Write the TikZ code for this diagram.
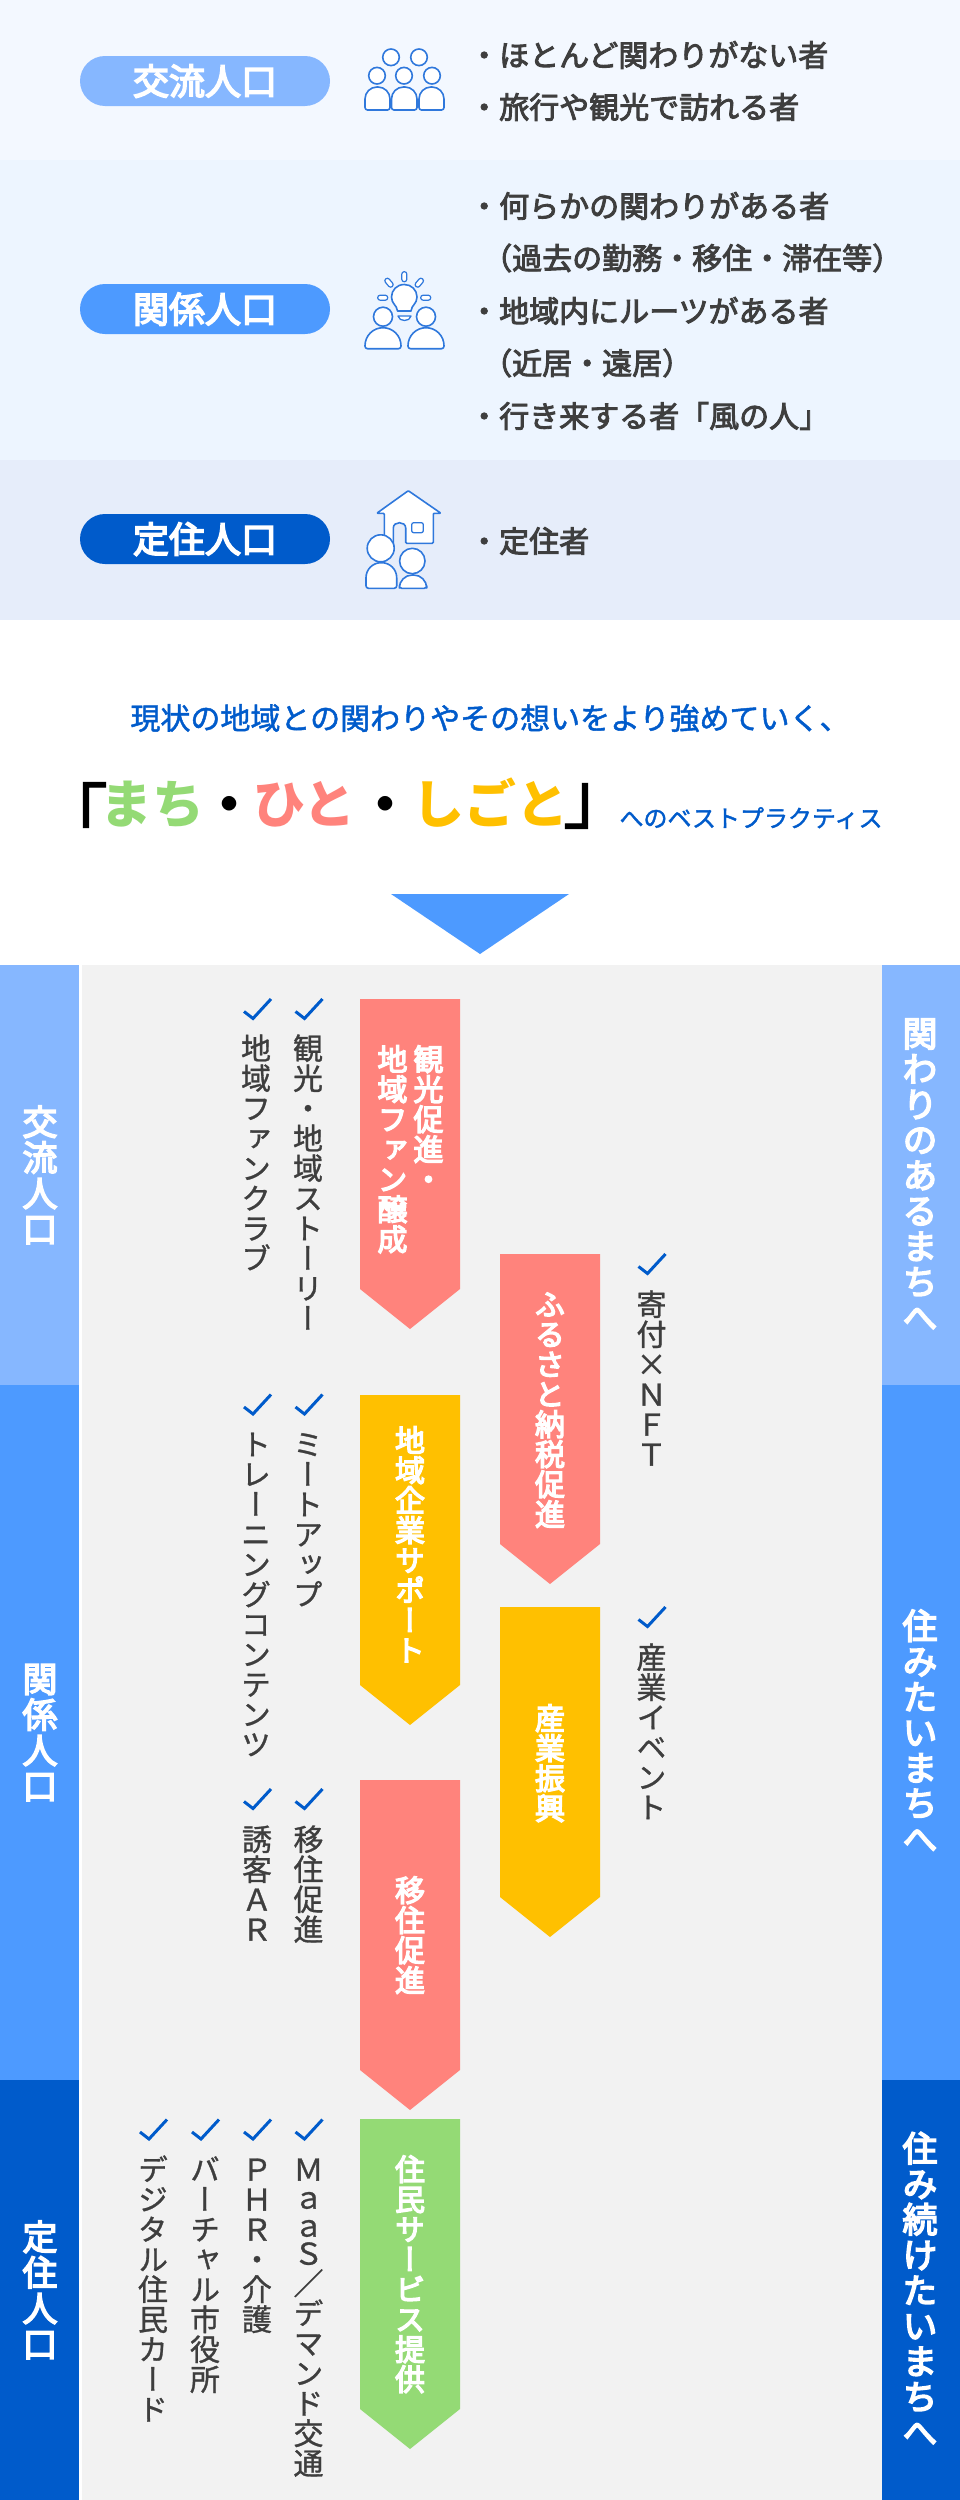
\documentclass[tikz,border=0pt]{standalone}
\usepackage{fontspec}
\setmainfont{Noto Sans CJK JP}
\newfontfamily\jpv{Noto Sans CJK JP}[RawFeature={+vert},FakeBold=1]
\newfontfamily\jpvb{Noto Sans CJK JP}[RawFeature={+vert},FakeBold=4.5]
\newfontfamily\jpm{Noto Sans CJK JP}[FakeBold=3]
\newfontfamily\jpl{Noto Sans CJK JP}[FakeBold=1.5]
\newfontfamily\jpb{Noto Sans CJK JP}[FakeBold=4.5]
\definecolor{bandA}{HTML}{F3F8FF}
\definecolor{bandB}{HTML}{EDF5FF}
\definecolor{bandC}{HTML}{E6EDFA}
\definecolor{lt}{HTML}{86B7FF}
\definecolor{md}{HTML}{4D9AFF}
\definecolor{dk}{HTML}{005BCB}
\definecolor{pinkc}{HTML}{FF837C}
\definecolor{yelc}{HTML}{FFC000}
\definecolor{grnc}{HTML}{94DA75}
\definecolor{grayc}{HTML}{F2F2F2}
\definecolor{txt}{HTML}{3E3E3E}
\definecolor{ic}{HTML}{2F78DC}
\newcommand\es{\vrule height .88em depth .12em width 0pt\relax}
\newcommand\fs[1]{\fontsize{#1}{#1}\selectfont}
\ExplSyntaxOn
\NewDocumentCommand\vchars{mm}{
  \baselineskip=#1pt\relax
  \lineskiplimit=-1000pt\relax
  \tl_map_inline:nn{#2}{\hbox~to~1em{\hss\vrule~height~.88em~depth~.12em~width~0pt\relax ##1\hss}}
}
\ExplSyntaxOff
\newcommand\vcol[2]{\vbox{\vchars{#1}{#2}}}
\tikzset{
  x=1pt,y=-1pt,
  pill/.style={inner sep=0,minimum width=250pt,minimum height=50pt,rounded corners=25pt,text=white,font=\jpb\fs{36}},
  listline/.style={inner sep=0,anchor=west,text=txt,font=\jpm\fs{30}},
  icn/.style={draw=ic,fill=white,line width=1.6pt,line join=round},
  ray/.style={draw=ic,fill=white,line width=1.2pt,rounded corners=2.4pt},
  sidelabel/.style={inner sep=0,anchor=north,text=white,font=\jpvb\fs{35}},
  arrowlabel/.style={inner sep=0,anchor=north,text=white,font=\jpvb\fs{30}},
  itemcol/.style={inner sep=0,anchor=north,text=txt,font=\jpv\fs{30}},
  chk/.style={draw=dk,line width=3pt,line join=miter},
  headpart/.style={inner sep=0,font=\fs{52}\bfseries},
  bracket/.style={inner sep=0,text=black,font=\jpl\fs{70}},
}
\newcommand\chk[2]{\draw[chk] (#1-13.5,#2+13) -- (#1-4.5,#2+20) -- (#1+13.5,#2+0.5);}
\newcommand\arrowshape[3]{\fill[#1] (#2,#3) -- (#2+100,#3) -- (#2+100,#3+290) -- (#2+50,#3+330) -- (#2,#3+290) -- cycle;}
\newcommand\bodygen[5]{\draw[icn] [rounded corners=2.5pt] ({(#1+#2)/2},#5) -- (#1,#5) [rounded corners=#3pt] -- (#1,#4) -- (#2,#4) [rounded corners=2.5pt] -- (#2,#5) -- cycle;}
\begin{document}
\begin{tikzpicture}
\useasboundingbox (0,0) rectangle (960,2500);
\fill[white] (0,0) rectangle (960,2500);
% bands
\fill[bandA] (0,0) rectangle (960,160);
\fill[bandB] (0,160) rectangle (960,460);
\fill[bandC] (0,460) rectangle (960,620);
% pills
\node[pill,fill=lt] (pillA) at (205,81) {\es 交流人口};
\node[pill,fill=md] (pillB) at (205,309) {\es 関係人口};
\node[pill,fill=dk] (pillC) at (205,539) {\es 定住人口};
% icon A
\foreach \cx in {391,419} \draw[icn] (\cx,57.3) circle[radius=8.3];
\foreach \cx in {377,404,432} \draw[icn] (\cx,75.7) circle[radius=8.3];
\bodygen{365}{390}{12}{87}{110}
\bodygen{391.5}{417}{12}{87}{110}
\bodygen{419}{444}{12}{87}{110}
% icon B
\draw[icn] (397.5,311) .. controls (397,305) and (391.5,304) .. (391.5,297) .. controls (391.5,290) and (397,284.5) .. (404.3,284.5) .. controls (411.5,284.5) and (417,290) .. (417,297) .. controls (417,304) and (411.5,305) .. (411,311) -- cycle;
\draw[icn,line width=1.3pt] (398,316) -- (411,316) .. controls (410,322) and (399,322) .. (398,316) -- cycle;
\draw[ray] (401.8,271.7) rectangle (406.8,281.7);
\draw[ray,rotate around={40:(389,282.7)}] (386.5,277.7) rectangle (391.5,287.7);
\draw[ray,rotate around={-40:(419.3,282.7)}] (416.8,277.7) rectangle (421.8,287.7);
\draw[ray] (377.7,295.2) rectangle (387.7,300.2);
\draw[ray] (420.7,295.2) rectangle (430.7,300.2);
\draw[icn] (383,316.7) circle[radius=9.5];
\draw[icn] (426,316.7) circle[radius=9.5];
\bodygen{365}{401}{18}{327.7}{348.7}
\bodygen{408}{444}{18}{327.7}{348.7}
% icon C
\draw[icn,rounded corners=1pt] (384.3,538) -- (384.3,513.3) -- (376.7,513.3) -- (408.3,490.7) -- (441,513.3) -- (433.3,513.3) -- (433.3,543.3) -- (405.7,543.3) -- (405.7,529) .. controls (405.7,521) and (393.3,521) .. (393.3,529) -- (393.3,548) -- cycle;
\draw[icn,rounded corners=2pt,line width=1.3pt] (411.7,522.7) rectangle (423.3,532.7);
\draw[icn] (380.7,548.3) circle[radius=13.5];
\draw[icn] (412.3,561) circle[radius=12.7];
\bodygen{366}{396.7}{15}{562.7}{588.3}
\bodygen{399.3}{426.7}{13}{575}{588.3}
% list text
\node[listline] (la1) at (469,55) {\es ・ほとんど関わりがない者};
\node[listline] (la2) at (469,107) {\es ・旅行や観光で訪れる者};
\node[listline] (lb1) at (469,206) {\es ・何らかの関わりがある者};
\node[listline] (lb2) at (482,258) {\es （過去の勤務・移住・滞在等）};
\node[listline] (lb3) at (469,311) {\es ・地域内にルーツがある者};
\node[listline] (lb4) at (482,363) {\es （近居・遠居）};
\node[listline] (lb5) at (469,416) {\es ・行き来する者「風の人」};
\node[listline] (lc1) at (469,541) {\es ・定住者};
% heading
\node[inner sep=0,text=dk,font=\jpl\fs{30}] (h1) at (490,718) {\es 現状の地域との関わりやその想いをより強めていく、};
\node[bracket] (hq1) at (73,815) {\es 「};
\node[headpart,text=grnc] (h2) at (152,804) {\es まち};
\node[headpart,text=black] (hd1) at (229,804) {\es ・};
\node[headpart,text=pinkc] (h3) at (304.5,804) {\es ひと};
\node[headpart,text=black] (hd2) at (385,804) {\es ・};
\node[headpart,text=yelc] (h4) at (490,804) {\es しごと};
\node[bracket] (hq2) at (598,796) {\es 」};
\node[inner sep=0,text=dk,font=\jpl\fs{24}] (h5) at (751,818) {\es へのベストプラクティス};
\fill[md] (391,894) -- (569,894) -- (480,954) -- cycle;
% lower panel
\fill[grayc] (82,965) rectangle (882,2500);
\fill[lt] (0,965) rectangle (79,1385);
\fill[md] (0,1385) rectangle (79,2080);
\fill[dk] (0,2080) rectangle (79,2500);
\fill[lt] (882,965) rectangle (960,1385);
\fill[md] (882,1385) rectangle (960,2080);
\fill[dk] (882,2080) rectangle (960,2500);
\node[sidelabel] (sa) at (40,1104) {\vcol{35.7}{交流人口}};
\node[sidelabel] (sb) at (40,1661) {\vcol{35.7}{関係人口}};
\node[sidelabel] (sc) at (40,2219) {\vcol{35.7}{定住人口}};
\node[sidelabel] (ra) at (920,1015.5) {\vcol{35.5}{関わりのあるまちへ}};
\node[sidelabel] (rb) at (920,1608) {\vcol{35.5}{住みたいまちへ}};
\node[sidelabel] (rc) at (920,2130.5) {\vcol{35.5}{住み続けたいまちへ}};
% arrows
\arrowshape{pinkc}{360}{999}
\arrowshape{pinkc}{500}{1254}
\arrowshape{yelc}{360}{1395}
\arrowshape{yelc}{500}{1607}
\arrowshape{pinkc}{360}{1780}
\arrowshape{grnc}{360}{2119}
\node[arrowlabel] (a1a) at (428.5,1044) {\vcol{30}{観光促進・}};
\node[arrowlabel] (a1b) at (392.5,1044) {\vcol{30}{地域ファン醸成}};
\node[arrowlabel] (a2) at (550,1289) {\vcol{30}{ふるさと納税促進}};
\node[arrowlabel] (a3) at (410,1425) {\vcol{30}{地域企業サポート}};
\node[arrowlabel] (a4) at (550,1703) {\vcol{30}{産業振興}};
\node[arrowlabel] (a5) at (410,1875) {\vcol{30}{移住促進}};
\node[arrowlabel] (a6) at (410,2154) {\vcol{30}{住民サービス提供}};
% check marks
\chk{309}{998.5}\chk{257.5}{998.5}
\chk{309}{1394}\chk{257.5}{1394}
\chk{309}{1788.5}\chk{257.5}{1788.5}
\chk{309}{2119}\chk{257.5}{2119}\chk{205.5}{2119}\chk{153.5}{2119}
\chk{652}{1253.5}\chk{652}{1606.5}
% items
\node[itemcol] (i1) at (308,1033) {\vcol{30}{観光・地域ストーリー}};
\node[itemcol] (i2) at (256,1033) {\vcol{30}{地域ファンクラブ}};
\node[itemcol] (i3) at (308,1429) {\vcol{30}{ミートアップ}};
\node[itemcol] (i4) at (256,1429) {\vcol{30}{トレーニングコンテンツ}};
\node[itemcol] (i5) at (308.5,1824) {\vcol{30}{移住促進}};
\node[itemcol] (i6) at (257,1824) {\vcol{30}{誘客ＡＲ}};
\node[itemcol] (i7) at (308.5,2154) {\vbox{\vchars{28}{Ｍａａ}\vchars{28}{Ｓ}\vchars{30}{／デマンド交通}}};
\node[itemcol] (i8) at (257,2154) {\vcol{30}{ＰＨＲ・介護}};
\node[itemcol] (i9) at (205,2154) {\vcol{30}{バーチャル市役所}};
\node[itemcol] (i10) at (153,2154) {\vcol{30}{デジタル住民カード}};
\node[itemcol] (i11) at (651.5,1289) {\vcol{30}{寄付×ＮＦＴ}};
\node[itemcol] (i12) at (651.5,1642) {\vcol{30}{産業イベント}};
\end{tikzpicture}
\end{document}
